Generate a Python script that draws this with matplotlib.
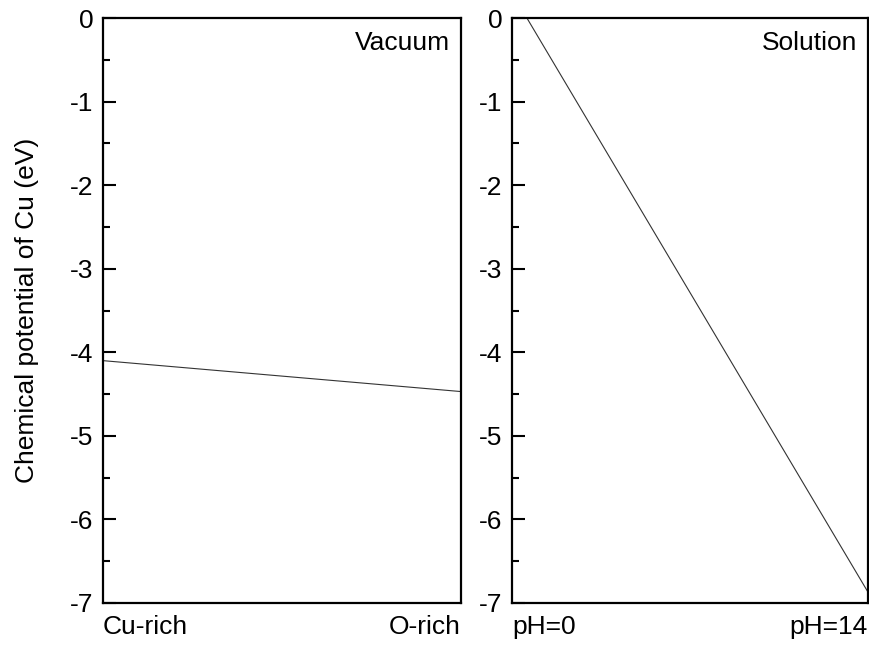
import matplotlib.pyplot as plt
from matplotlib.ticker import MultipleLocator

plt.rcParams['font.family'] = ['Liberation Sans', 'DejaVu Sans']

# left panel: vacuum, Cu-rich -> O-rich
vac_x = [0.0, 1.0]
vac_mu = [-4.10, -4.47]
vac_labels = ['Cu-rich', 'O-rich']

# right panel: solution, pH 0 -> 14
sol_ph = [0.0, 14.0]
sol_mu = [0.30, -6.87]
sol_labels = ['pH=0', 'pH=14']

yticks = [0, -1, -2, -3, -4, -5, -6, -7]
fs = 19

fig = plt.figure(figsize=(8.7, 6.46), dpi=100)
ax1 = fig.add_axes([103 / 870, 1 - 603 / 646, 358 / 870, 585 / 646])
ax2 = fig.add_axes([512 / 870, 1 - 603 / 646, 356 / 870, 585 / 646])

panels = [
    (ax1, vac_x, vac_mu, vac_labels, 'Vacuum'),
    (ax2, sol_ph, sol_mu, sol_labels, 'Solution'),
]

for ax, xs, ys, labels, title in panels:
    ax.plot(xs, ys, color='#333333', lw=0.8)
    ax.set_xlim(xs[0], xs[-1])
    ax.set_ylim(-7, 0)
    ax.set_yticks(yticks)
    ax.set_yticklabels([str(t) for t in yticks])
    ax.yaxis.set_minor_locator(MultipleLocator(0.5))
    ax.set_xticks([])
    ax.tick_params(axis='y', which='major', direction='in', length=9,
                   width=1.5, labelsize=fs, pad=7, right=False)
    ax.tick_params(axis='y', which='minor', direction='in', length=5,
                   width=1.5, right=False)
    for s in ax.spines.values():
        s.set_linewidth(1.6)
    ax.text(0.0, -0.02, labels[0], transform=ax.transAxes, ha='left',
            va='top', fontsize=fs)
    ax.text(1.0, -0.02, labels[1], transform=ax.transAxes, ha='right',
            va='top', fontsize=fs)
    ax.text(0.97, 0.978, title, transform=ax.transAxes, ha='right',
            va='top', fontsize=fs)

ax1.set_ylabel('Chemical potential of Cu (eV)', fontsize=fs)
ax1.yaxis.set_label_coords(-0.18, 0.5)

fig.savefig('out.png', dpi=100)
plt.close('all')
